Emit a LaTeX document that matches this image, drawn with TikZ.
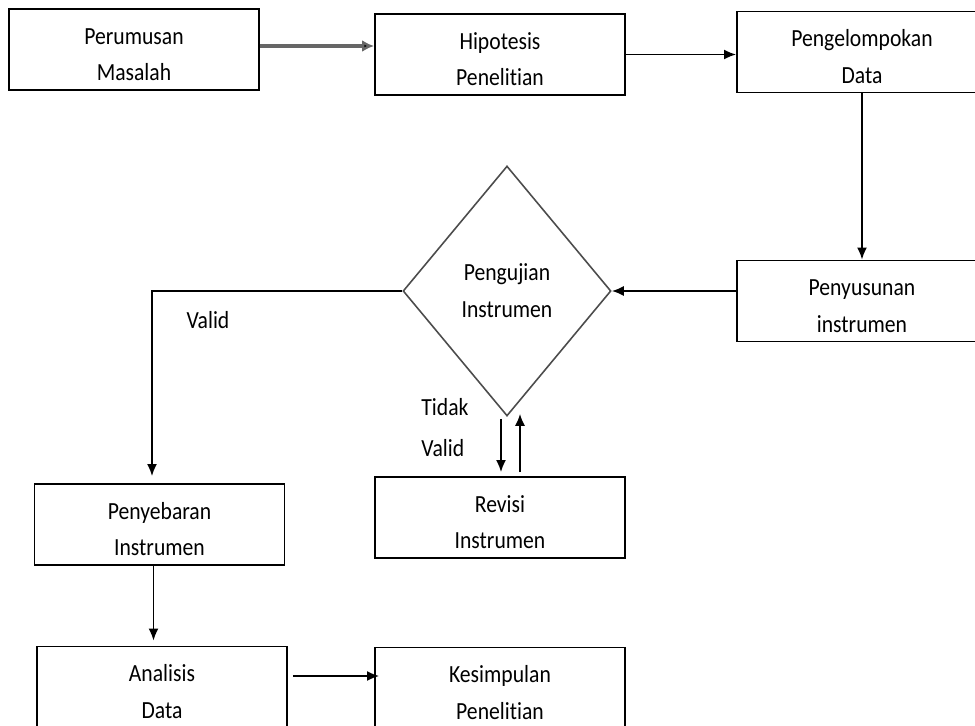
\documentclass[tikz,border=0pt]{standalone}
\usepackage{fontspec}
\setmainfont{Carlito}[FakeStretch=0.88,Ligatures=NoCommon]
\usetikzlibrary{shapes.geometric,arrows.meta}

\begin{document}
\begin{tikzpicture}[
    box/.style={draw, line width=1.1pt, minimum width=5cm, minimum height=1.62cm, align=center, inner sep=0pt, text height=1.26cm},
    decision/.style={diamond, draw=black!70, line width=0.9pt, minimum width=4.16cm, minimum height=5cm, align=center, inner sep=0pt},
    arr/.style={line width=1pt, -{Latex[length=2.4mm,width=2mm]}},
    font=\fontsize{14}{21}\selectfont
]
    % Fix the frame of the picture
    \useasboundingbox (0,0) rectangle (19.5,-14.52);

    % Top row
    \node[box] (perumusan) at (2.68,-0.99) {Perumusan\\Masalah};
    \node[box] (hipotesis) at (10.0,-1.09) {Hipotesis\\Penelitian};
    \node[box] (pengelompokan) at (17.24,-1.04) {Pengelompokan\\Data};

    % Middle row
    \node[box] (penyusunan) at (17.24,-6.02) {Penyusunan\\instrumen};
    \node[decision] (uji) at (10.14,-5.82) {Pengujian\\Instrumen};

    % Lower rows
    \node[box] (penyebaran) at (3.19,-10.49) {Penyebaran\\Instrumen};
    \node[box] (revisi) at (10.0,-10.35) {Revisi\\Instrumen};
    \node[box] (analisis) at (3.24,-13.74) {Analisis\\Data};
    \node[box] (kesimpulan) at (10.0,-13.76) {Kesimpulan\\Penelitian};

    % Connectors
    \draw[arr, draw=black!60, line width=1.8pt, -{Latex[length=2.4mm,width=2.4mm,fill=black]}] ([yshift=0.07cm]perumusan.east) -- ([yshift=0.07cm]perumusan.east -| hipotesis.west);
    \draw[arr] (hipotesis.east) -- (hipotesis.east -| pengelompokan.west);
    \draw[arr] (pengelompokan.south) -- (penyusunan.north);
    \draw[arr] (uji.east -| penyusunan.west) -- (uji.east);
    \draw[arr, shorten >=0.14cm] (uji.west) -| ([xshift=-0.15cm]penyebaran.north);
    \draw[arr] ([xshift=-0.12cm,yshift=-0.04cm]uji.south) -- ([xshift=-0.12cm,yshift=0.08cm]uji.south |- revisi.north);
    \draw[arr] ([xshift=0.26cm,yshift=0.08cm]uji.south |- revisi.north) -- ([xshift=0.26cm,yshift=0.06cm]uji.south);
    \draw[arr] ([xshift=-0.12cm]penyebaran.south) -- ([xshift=-0.12cm,yshift=0.1cm]penyebaran.south |- analisis.north);
    \draw[arr] ([xshift=0.1cm,yshift=0.22cm]analisis.east) -- ([xshift=0.1cm,yshift=0.22cm]analisis.east -| kesimpulan.west);

    % Labels
    \node (valid) at (4.16,-6.4) {Valid};
    \node[align=left, font=\fontsize{14}{23}\selectfont] (tidakvalid) at (8.9,-8.55) {Tidak\\Valid};
\end{tikzpicture}
\end{document}
